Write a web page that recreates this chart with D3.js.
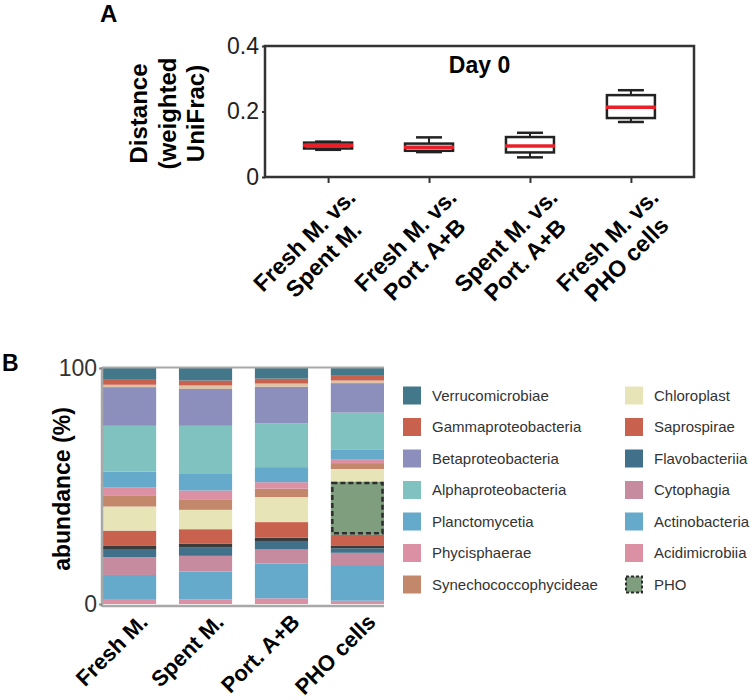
<!DOCTYPE html>
<html><head><meta charset="utf-8">
<script src="https://cdn.jsdelivr.net/npm/d3@7"></script>
<style>
body{margin:0;background:#fff}
svg{display:block}
text{font-family:"Liberation Sans", Arial, sans-serif}
</style>
</head><body>
<svg id="c" width="756" height="700"></svg>
<script>
// ---------------- Panel A data (box plots) ----------------
const boxCategories = ["Fresh M. vs.|Spent M.", "Fresh M. vs.|Port. A+B", "Spent M. vs.|Port. A+B", "Fresh M. vs.|PHO cells"];
const boxMin    = [0.083, 0.076, 0.060, 0.168];
const boxQ1     = [0.087, 0.080, 0.075, 0.180];
const boxMedian = [0.097, 0.091, 0.095, 0.213];
const boxQ3     = [0.105, 0.102, 0.122, 0.250];
const boxMax    = [0.108, 0.121, 0.135, 0.265];
const yTicksA   = [0, 0.2, 0.4];
const titleA    = "Day 0";

// ---------------- Panel B data (stacked bars, % abundance) ----------------
const barCategories = ["Fresh M.", "Spent M.", "Port. A+B", "PHO cells"];
// stacking order, bottom -> top
const taxa = ["Acidimicrobiia", "Actinobacteria", "Cytophagia", "Flavobacteriia", "other (dark)",
  "Saprospirae", "PHO", "Chloroplast", "Synechococcophycideae", "Phycisphaerae", "Planctomycetia",
  "Alphaproteobacteria", "Betaproteobacteria", "other (light)", "Gammaproteobacteria", "Verrucomicrobiae"];
const freshM   = [2.1, 10.2, 7.5, 3.5, 1.3, 6.5, 0,    10.2, 4.5, 3.7, 6.6, 19.4, 16.4, 1.0, 2.1, 5.0];
const spentM   = [2.0, 11.7, 6.7, 3.7, 1.4, 6.2, 0,    8.2,  4.2, 4.0, 7.0, 20.4, 15.6, 1.5, 2.1, 5.3];
const portAB   = [2.4, 14.8, 5.9, 3.6, 1.4, 6.6, 0,    10.6, 3.6, 2.7, 6.4, 18.5, 15.5, 1.4, 2.1, 4.5];
const phoCells = [1.4, 15.1, 5.2, 1.9, 1.0, 4.7, 22.6, 5.3,  2.5, 1.7, 3.9, 15.8, 12.5, 1.1, 2.0, 3.3];
const barValues = [freshM, spentM, portAB, phoCells];
const yTicksB = [0, 100];
const legendLeft  = ["Verrucomicrobiae", "Gammaproteobacteria", "Betaproteobacteria", "Alphaproteobacteria", "Planctomycetia", "Phycisphaerae", "Synechococcophycideae"];
const legendRight = ["Chloroplast", "Saprospirae", "Flavobacteriia", "Cytophagia", "Actinobacteria", "Acidimicrobiia", "PHO"];

// ---------------- styles ----------------
const taxonColors = {
  "Verrucomicrobiae": "#42788a", "Gammaproteobacteria": "#c9614f", "Betaproteobacteria": "#8c8fbb",
  "Alphaproteobacteria": "#80c2c0", "Planctomycetia": "#65a9cb", "Phycisphaerae": "#db90a4",
  "Synechococcophycideae": "#c3876b", "Chloroplast": "#e7e5b8", "Saprospirae": "#c9614f",
  "Flavobacteriia": "#41708a", "Cytophagia": "#c68b9e", "Actinobacteria": "#65a9cb",
  "Acidimicrobiia": "#db90a4", "PHO": "#7f9e7e", "other (dark)": "#3b3b3b", "other (light)": "#dcc3a8"
};

const svg = d3.select("#c");

// ================= Panel A =================
const A = {left: 265, right: 694, top: 46, bottom: 177};
const xA = d3.scalePoint().domain(d3.range(boxCategories.length)).range([A.left, A.right]).padding(0.625);
const yA = d3.scaleLinear().domain([0, 0.4]).range([A.bottom, A.top]);

svg.append("text").attr("x", 100).attr("y", 22).attr("font-size", 24).attr("font-weight", "bold").text("A");

const gyA = svg.append("g").attr("transform", `translate(${A.left},0)`)
  .call(d3.axisLeft(yA).tickValues(yTicksA).tickSize(3).tickPadding(3)
    .tickFormat(d => d === 0 ? "0" : d3.format(".1f")(d)));
gyA.select(".domain").remove();
gyA.selectAll("line").attr("stroke", "#333").attr("stroke-width", 2);
gyA.selectAll("text").attr("font-size", 23).attr("fill", "#222").attr("font-family", '"Liberation Sans", Arial, sans-serif');

const gxA = svg.append("g").attr("transform", `translate(0,${A.bottom})`)
  .call(d3.axisBottom(xA).tickSize(6).tickFormat(""));
gxA.select(".domain").remove();
gxA.selectAll("line").attr("stroke", "#333").attr("stroke-width", 2);

svg.append("rect").attr("x", A.left).attr("y", A.top)
  .attr("width", A.right - A.left).attr("height", A.bottom - A.top)
  .attr("fill", "none").attr("stroke", "#333").attr("stroke-width", 2.5);

svg.append("text").attr("x", (A.left + A.right) / 2).attr("y", 73).attr("text-anchor", "middle")
  .attr("font-size", 23).attr("font-weight", "bold").text(titleA);

const yLabA = ["Distance", "(weighted", "UniFrac)"];
const ylbX = [147, 175.5, 204];
yLabA.forEach((t, i) => {
  svg.append("text").attr("transform", `translate(${ylbX[i]},${(A.top + A.bottom) / 2 + 2}) rotate(-90)`)
    .attr("text-anchor", "middle").attr("font-size", 24).attr("font-weight", "bold").text(t);
});

const bw = 48, capW = 26;
boxCategories.forEach((c, i) => {
  const cx = xA(i);
  const g = svg.append("g");
  g.append("line").attr("x1", cx).attr("x2", cx).attr("y1", yA(boxMin[i])).attr("y2", yA(boxMax[i]))
    .attr("stroke", "#222").attr("stroke-width", 2);
  [boxMin[i], boxMax[i]].forEach(v => g.append("line").attr("x1", cx - capW / 2).attr("x2", cx + capW / 2)
    .attr("y1", yA(v)).attr("y2", yA(v)).attr("stroke", "#222").attr("stroke-width", 2.5));
  g.append("rect").attr("x", cx - bw / 2).attr("y", yA(boxQ3[i])).attr("width", bw)
    .attr("height", yA(boxQ1[i]) - yA(boxQ3[i])).attr("fill", "#fff").attr("stroke", "#222").attr("stroke-width", 2.5);
  g.append("line").attr("x1", cx - bw / 2 - 1).attr("x2", cx + bw / 2 + 1)
    .attr("y1", yA(boxMedian[i])).attr("y2", yA(boxMedian[i])).attr("stroke", "#e8202a").attr("stroke-width", 3.5);
});

boxCategories.forEach((c, i) => {
  const lines = c.split("|");
  const g = svg.append("g").attr("transform", `translate(${xA(i)},${A.bottom}) rotate(-45)`);
  const ts = lines.map((l, k) => g.append("text").attr("font-size", 23).attr("font-weight", "bold")
    .attr("text-anchor", "middle").attr("y", 36 + k * 27).text(l));
  const maxW = d3.max(ts, t => t.node().getComputedTextLength());
  ts.forEach(t => t.attr("x", 5 - maxW / 2));
});

// ================= Panel B =================
const B = {left: 102, right: 384, top: 368, bottom: 604};
const xB = d3.scaleBand().domain(barCategories).range([B.left + 1, B.right]).paddingInner(0.3).paddingOuter(0);
const yB = d3.scaleLinear().domain([0, 100]).range([B.bottom, B.top]);

svg.append("text").attr("x", 2).attr("y", 371).attr("font-size", 23).attr("font-weight", "bold").text("B");

const rows = barCategories.map((c, j) => {
  const r = {cat: c};
  taxa.forEach((t, k) => r[t] = barValues[j][k]);
  return r;
});
const stacked = d3.stack().keys(taxa)(rows);

stacked.forEach(s => {
  svg.append("g").selectAll("rect").data(s).join("rect")
    .attr("x", d => xB(d.data.cat)).attr("width", xB.bandwidth())
    .attr("y", d => yB(d[1])).attr("height", d => Math.max(0, yB(d[0]) - yB(d[1])))
    .attr("fill", taxonColors[s.key]);
});
const phoSeries = stacked.find(s => s.key === "PHO");
svg.append("g").selectAll("rect").data(phoSeries.filter(d => d[1] - d[0] > 0)).join("rect")
  .attr("x", d => xB(d.data.cat) + 1.5).attr("width", xB.bandwidth() - 3)
  .attr("y", d => yB(d[1]) + 1.5).attr("height", d => yB(d[0]) - yB(d[1]) - 3)
  .attr("fill", "none").attr("stroke", "#2e2e2e").attr("stroke-width", 2.5).attr("stroke-dasharray", "5,3");

svg.append("line").attr("x1", B.left).attr("x2", B.left).attr("y1", B.top - 1).attr("y2", B.bottom + 3)
  .attr("stroke", "#a8a8a8").attr("stroke-width", 2.5);
svg.append("line").attr("x1", B.left).attr("x2", B.right).attr("y1", B.top - 0.5).attr("y2", B.top - 0.5)
  .attr("stroke", "#a8a8a8").attr("stroke-width", 2);
svg.append("line").attr("x1", B.left).attr("x2", B.right).attr("y1", B.bottom + 2).attr("y2", B.bottom + 2)
  .attr("stroke", "#a8a8a8").attr("stroke-width", 2.5);

const gyB = svg.append("g").attr("transform", `translate(${B.left},0)`)
  .call(d3.axisLeft(yB).tickValues(yTicksB).tickSize(3).tickPadding(2).tickFormat(d3.format("d")));
gyB.select(".domain").remove();
gyB.selectAll("line").attr("stroke", "#888").attr("stroke-width", 2);
gyB.selectAll("text").attr("font-size", 23).attr("fill", "#333").attr("font-family", '"Liberation Sans", Arial, sans-serif');

svg.append("text").attr("transform", `translate(70,${(B.top + B.bottom) / 2 + 3}) rotate(-90)`)
  .attr("text-anchor", "middle").attr("font-size", 23).attr("font-weight", "bold").text("abundance (%)");

barCategories.forEach(c => {
  svg.append("text").attr("transform", `translate(${xB(c) + xB.bandwidth() / 2 + 14},${B.bottom + 14}) rotate(-45)`)
    .attr("text-anchor", "end").attr("dy", "0.35em").attr("font-size", 22).attr("font-weight", "bold").text(c);
});

const legRowH = 31.5, legY0 = 395.5;
[[legendLeft, 403], [legendRight, 625]].forEach(([items, lx]) => {
  items.forEach((t, i) => {
    const cy = legY0 + i * legRowH;
    const r = svg.append("rect").attr("x", lx).attr("y", cy - 9).attr("width", 18).attr("height", 18)
      .attr("fill", taxonColors[t]);
    if (t === "PHO") r.attr("x", lx + 1).attr("y", cy - 8).attr("width", 16).attr("height", 16)
      .attr("stroke", "#2e2e2e").attr("stroke-width", 2).attr("stroke-dasharray", "3,2");
    svg.append("text").attr("x", lx + 29).attr("y", cy).attr("dy", "0.35em")
      .attr("font-size", 15).attr("fill", "#333").text(t);
  });
});
</script>
</body></html>
